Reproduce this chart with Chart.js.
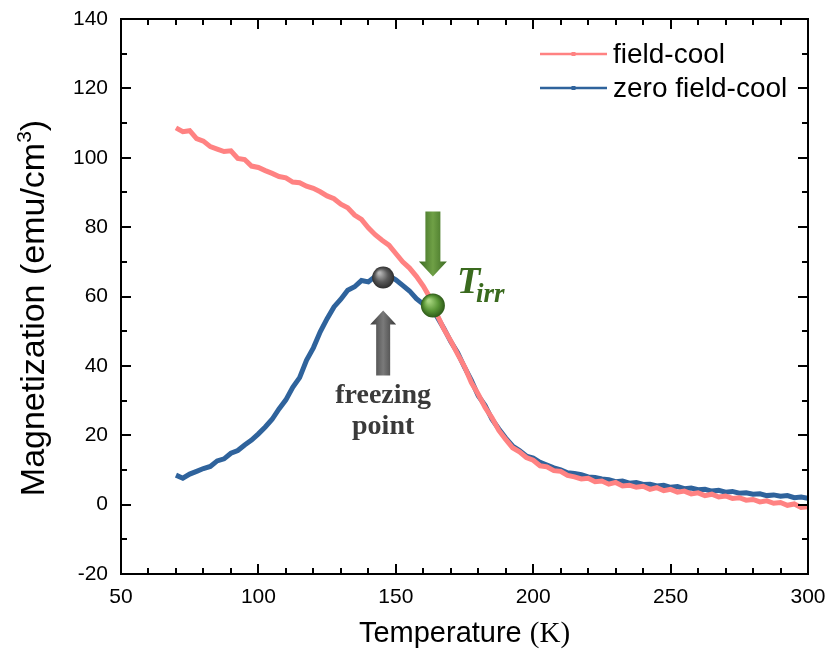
<!DOCTYPE html>
<html><head><meta charset="utf-8">
<script src="https://cdn.jsdelivr.net/npm/chart.js@4"></script>
<style>html,body{margin:0;padding:0;background:#fff}#wrap{width:830px;height:660px}</style>
</head><body><div id="wrap"><canvas id="c" width="830" height="660"></canvas></div>
<script>
const temperatures = [70,72.5,75,77.5,80,82.5,85,87.5,90,92.5,95,97.5,100,102.5,105,107.5,110,112.5,115,117.5,120,122.5,125,127.5,130,132.5,135,137.5,140,142.5,145,147.5,150,152.5,155,157.5,160,162.5,165,167.5,170,172.5,175,177.5,180,182.5,185,187.5,190,192.5,195,197.5,200,202.5,205,207.5,210,212.5,215,217.5,220,222.5,225,227.5,230,232.5,235,237.5,240,242.5,245,247.5,250,252.5,255,257.5,260,262.5,265,267.5,270,272.5,275,277.5,280,282.5,285,287.5,290,292.5,295,297.5,300];
const fieldCool = [108.6,107.5,107.8,105.5,104.8,103.2,102.5,101.8,102.0,99.8,
 99.5,97.6,97.2,96.3,95.5,94.6,94.2,93.0,92.8,91.8,
 91.2,90.2,89.0,88.2,86.6,85.6,83.5,82.2,79.8,77.8,
 76.2,74.8,72.4,70.0,68.2,65.8,63.0,59.6,54.8,50.6,
 47.2,43.4,39.8,35.2,31.8,28.0,25.0,21.4,18.8,16.4,
 15.2,13.6,12.8,11.2,10.9,9.8,9.6,8.4,8.0,7.4,
 7.6,6.6,6.8,5.9,6.4,5.4,5.6,5.0,5.3,4.4,
 4.9,4.0,4.4,3.6,3.9,3.1,3.4,2.6,3.0,2.2,
 2.5,1.8,2.0,1.3,1.5,0.8,1.1,0.4,0.6,-0.2,
 0.2,-0.8,-0.6];
const zeroFieldCool = [8.5,7.6,8.8,9.6,10.4,11.0,12.6,13.2,14.8,15.6,
 17.2,18.6,20.4,22.4,24.6,27.6,30.2,33.8,36.6,41.6,
 45.2,49.8,53.6,57.0,59.2,61.8,62.8,64.6,64.2,65.8,
 65.4,66.0,64.8,63.2,61.6,59.4,57.8,57.6,54.2,50.8,
 47.0,43.8,39.6,35.8,31.4,28.6,24.6,21.8,19.2,16.9,
 15.6,14.0,13.4,12.2,11.4,10.6,10.0,9.2,9.0,8.6,
 8.0,7.8,7.4,7.2,6.6,6.8,6.2,6.4,5.8,5.9,
 5.4,5.6,5.0,5.2,4.6,4.8,4.3,4.4,3.9,4.1,
 3.6,3.8,3.3,3.4,3.0,3.1,2.6,2.8,2.4,2.6,
 2.0,2.2,1.8];
const seriesLabels = ['field-cool', 'zero field-cool'];
const xTickValues = [50,100,150,200,250,300];
const yTickValues = [-20,0,20,40,60,80,100,120,140];
const freezingPoint = {x: 145.4, y: 65.5};
const irrPoint = {x: 163.5, y: 57.4};

const PINK = '#FF8282';
const BLUE = '#2F639C';
const SANS = '"Liberation Sans", Arial, sans-serif';
const SERIF = '"Liberation Serif", "Times New Roman", serif';

function toXY(xs, ys){ return xs.map((x,i)=>({x:x, y:ys[i]})); }

const frameTicks = {
  id:'frameTicks',
  afterDatasetsDraw(chart){
    const {ctx, chartArea:a, scales:{x, y}} = chart;
    ctx.save();
    ctx.strokeStyle = '#000';
    ctx.lineWidth = 2;
    ctx.lineCap = 'butt';
    ctx.beginPath();
    for (let v = x.min; v <= x.max; v += 10) {
      const px = Math.round(x.getPixelForValue(v));
      const len = xTickValues.includes(v) ? 10 : 6;
      ctx.moveTo(px, a.bottom); ctx.lineTo(px, a.bottom - len);
      ctx.moveTo(px, a.top); ctx.lineTo(px, a.top + len);
    }
    for (let v = y.min; v <= y.max; v += 10) {
      const py = Math.round(y.getPixelForValue(v));
      const len = yTickValues.includes(v) ? 10 : 6;
      ctx.moveTo(a.left, py); ctx.lineTo(a.left + len, py);
      ctx.moveTo(a.right, py); ctx.lineTo(a.right - len, py);
    }
    ctx.stroke();
    ctx.strokeRect(a.left, a.top, a.right - a.left, a.bottom - a.top);
    ctx.restore();
  }
};

function ball(ctx, cx, cy, r, c1, c2, c3){
  const g = ctx.createRadialGradient(cx - r*0.35, cy - r*0.4, r*0.1, cx, cy, r);
  g.addColorStop(0, c1); g.addColorStop(0.55, c2); g.addColorStop(1, c3);
  ctx.fillStyle = g;
  ctx.beginPath(); ctx.arc(cx, cy, r, 0, Math.PI*2); ctx.fill();
}
function arrow(ctx, cx, tipY, headBaseY, tailY, headHalf, bodyHalf, dark, light){
  const g = ctx.createLinearGradient(cx - headHalf, 0, cx + headHalf, 0);
  g.addColorStop(0, dark); g.addColorStop(0.5, light); g.addColorStop(1, dark);
  ctx.fillStyle = g;
  ctx.beginPath();
  ctx.moveTo(cx, tipY);
  ctx.lineTo(cx + headHalf, headBaseY);
  ctx.lineTo(cx + bodyHalf, headBaseY);
  ctx.lineTo(cx + bodyHalf, tailY);
  ctx.lineTo(cx - bodyHalf, tailY);
  ctx.lineTo(cx - bodyHalf, headBaseY);
  ctx.lineTo(cx - headHalf, headBaseY);
  ctx.closePath();
  ctx.fill();
}

const annotations = {
  id:'annotations',
  afterDatasetsDraw(chart){
    const {ctx, scales:{x, y}} = chart;
    ctx.save();
    const fx = x.getPixelForValue(freezingPoint.x), fy = y.getPixelForValue(freezingPoint.y);
    ball(ctx, fx, fy, 11, '#B5B5B5', '#5A5A5A', '#2E2E2E');
    arrow(ctx, fx, fy + 33, fy + 47, fy + 98, 13, 7, '#3A3A3A', '#7A7A7A');
    ctx.fillStyle = '#3A3A3A';
    ctx.font = 'bold 28px ' + SERIF;
    ctx.textAlign = 'center';
    ctx.textBaseline = 'alphabetic';
    ctx.fillText('freezing', fx, fy + 126);
    ctx.fillText('point', fx, fy + 157);
    const gx = x.getPixelForValue(irrPoint.x), gy = y.getPixelForValue(irrPoint.y);
    arrow(ctx, gx, gy - 29, gy - 44, gy - 94, 14, 7.5, '#3C6A22', '#6FA046');
    ball(ctx, gx, gy, 12, '#A6D47E', '#5C9838', '#2D5A18');
    ctx.fillStyle = '#3A6A1E';
    ctx.textAlign = 'left';
    ctx.font = 'italic bold 38px ' + SERIF;
    ctx.fillText('T', gx + 24, gy - 13);
    const tw = ctx.measureText('T').width;
    ctx.font = 'italic bold 27px ' + SERIF;
    ctx.fillText('irr', gx + 24 + tw - 4, gy - 4);
    ctx.restore();
  }
};

const legendInside = {
  id:'legendInside',
  afterDraw(chart){
    const {ctx, chartArea:a} = chart;
    ctx.save();
    const ds = chart.data.datasets;
    ctx.font = '28px ' + SANS;
    ctx.textAlign = 'left';
    ctx.textBaseline = 'middle';
    ds.forEach((d, i) => {
      const yy = a.top + 35 + i * 34;
      const x0 = a.right - 268, x1 = a.right - 201;
      ctx.strokeStyle = d.borderColor; ctx.lineWidth = 2.5;
      ctx.beginPath(); ctx.moveTo(x0, yy); ctx.lineTo(x1, yy); ctx.stroke();
      ctx.fillStyle = d.borderColor;
      ctx.fillRect((x0 + x1)/2 - 2, yy - 2, 4, 4);
      ctx.fillStyle = '#000';
      ctx.fillText(d.label, a.right - 195, yy + 1);
    });
    ctx.restore();
  }
};

const axisTitles = {
  id:'axisTitles',
  afterDraw(chart){
    const {ctx, chartArea:a} = chart;
    ctx.save();
    ctx.fillStyle = '#000';
    ctx.textAlign = 'left';
    ctx.textBaseline = 'alphabetic';
    const p1 = 'Temperature ', p2 = '(K)';
    ctx.font = '29px ' + SANS;
    const w1 = ctx.measureText(p1).width;
    ctx.font = '29px ' + SERIF;
    const w2 = ctx.measureText(p2).width;
    const cx = (a.left + a.right) / 2;
    const sx = cx - (w1 + w2)/2;
    ctx.font = '29px ' + SANS;
    ctx.fillText(p1, sx, 642);
    ctx.font = '29px ' + SERIF;
    ctx.fillText(p2, sx + w1, 642);
    const q1 = 'Magnetization (emu/cm', q2 = '3', q3 = ')';
    const fs = 34;
    ctx.font = fs + 'px ' + SANS;
    const m1 = ctx.measureText(q1).width, m3 = ctx.measureText(q3).width;
    ctx.font = Math.round(fs*0.62) + 'px ' + SANS;
    const m2 = ctx.measureText(q2).width;
    const total = m1 + m2 + m3;
    ctx.translate(44, 308);
    ctx.rotate(-Math.PI/2);
    const tx = -total/2;
    ctx.font = fs + 'px ' + SANS;
    ctx.fillText(q1, tx, 0);
    ctx.font = Math.round(fs*0.62) + 'px ' + SANS;
    ctx.fillText(q2, tx + m1, -fs*0.38);
    ctx.font = fs + 'px ' + SANS;
    ctx.fillText(q3, tx + m1 + m2, 0);
    ctx.restore();
  }
};

const zeroPad = s => { s.paddingLeft = 0; s.paddingRight = 0; s.paddingTop = 0; s.paddingBottom = 0; };

new Chart(document.getElementById('c'), {
  type: 'line',
  data: {
    datasets: [
      {label: seriesLabels[0], data: toXY(temperatures, fieldCool), borderColor: PINK, backgroundColor: PINK, borderWidth: 5, pointRadius: 0, tension: 0, fill: false},
      {label: seriesLabels[1], data: toXY(temperatures, zeroFieldCool), borderColor: BLUE, backgroundColor: BLUE, borderWidth: 5, pointRadius: 0, tension: 0, fill: false}
    ]
  },
  options: {
    responsive: false,
    animation: false,
    devicePixelRatio: 1,
    layout: {padding: {top: 19, right: 22, left: 0, bottom: 0}},
    plugins: {legend: {display: false}, tooltip: {enabled: false}},
    scales: {
      x: {
        type: 'linear', min: 50, max: 300,
        afterBuildTicks: s => { s.ticks = xTickValues.map(v => ({value: v})); },
        afterFit: s => { s.height = 86; zeroPad(s); },
        grid: {display: false, drawTicks: false},
        border: {display: false},
        ticks: {font: {size: 21, family: SANS}, color: '#000', padding: 11, maxRotation: 0}
      },
      y: {
        type: 'linear', min: -20, max: 140,
        afterBuildTicks: s => { s.ticks = yTickValues.map(v => ({value: v})); },
        afterFit: s => { s.width = 121; zeroPad(s); },
        grid: {display: false, drawTicks: false},
        border: {display: false},
        ticks: {font: {size: 21, family: SANS}, color: '#000', padding: 13}
      }
    }
  },
  plugins: [frameTicks, annotations, legendInside, axisTitles]
});
</script>
</body></html>
